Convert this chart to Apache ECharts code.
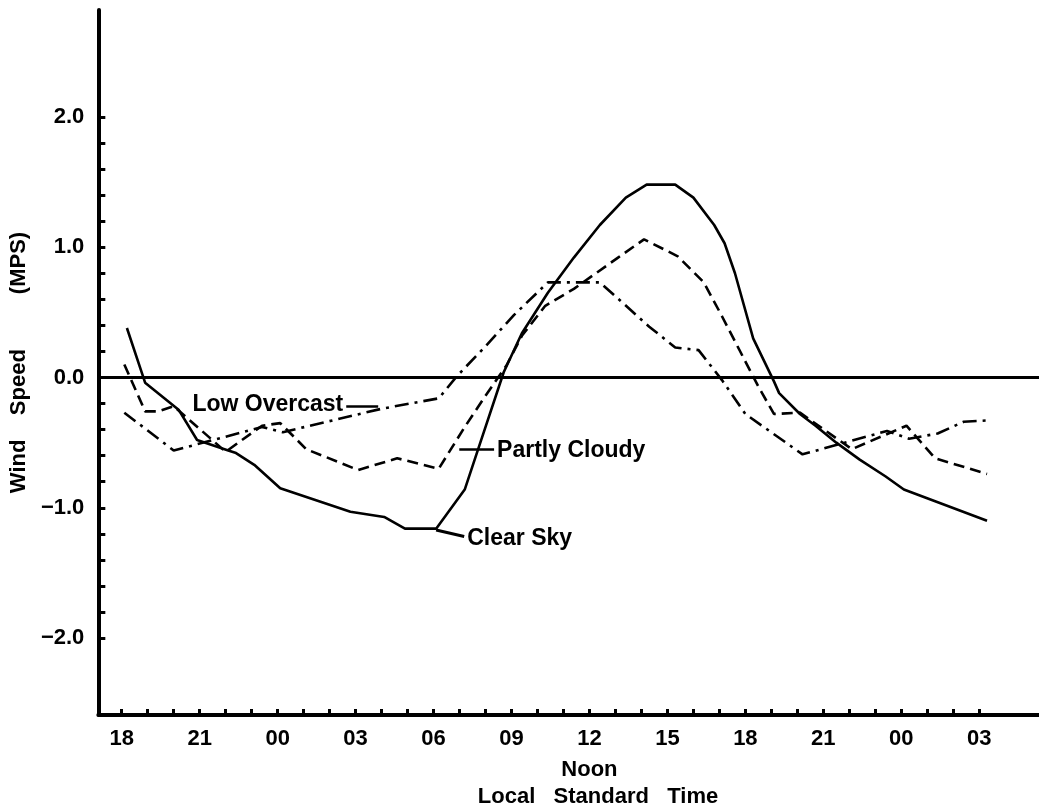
<!DOCTYPE html>
<html>
<head>
<meta charset="utf-8">
<script src="https://cdn.jsdelivr.net/npm/echarts@6/dist/echarts.min.js"></script>
<style>
  html, body { margin: 0; padding: 0; background: #fff; }
  #chart { width: 1039px; height: 808px; }
</style>
</head>
<body>
<div id="chart"></div>
<script>
// hours counted from 18:00 of the first evening, wind speed in m/s
const clearSky = [
  [0.2, 0.38], [0.9, -0.04], [2.2, -0.25], [2.9, -0.48], [4.1, -0.56], [4.4, -0.58],
  [5.1, -0.67], [6.1, -0.85], [8.8, -1.03], [10.1, -1.07], [10.9, -1.16], [12.1, -1.16],
  [13.2, -0.86], [13.8, -0.5], [14.7, 0.04], [15.4, 0.34], [16.4, 0.65], [17.4, 0.92],
  [18.4, 1.17], [19.4, 1.38], [20.2, 1.48], [21.3, 1.48], [22.0, 1.38], [22.8, 1.17],
  [23.2, 1.03], [23.6, 0.8], [24.3, 0.3], [25.1, -0.03], [25.3, -0.12], [26.1, -0.28],
  [26.7, -0.37], [27.5, -0.5], [28.4, -0.63], [29.4, -0.76], [30.1, -0.86], [33.3, -1.1]
];
const partlyCloudy = [
  [0.1, 0.1], [0.9, -0.26], [1.4, -0.26], [2.0, -0.22], [4.0, -0.57], [5.4, -0.37],
  [6.1, -0.35], [7.1, -0.55], [9.1, -0.71], [10.6, -0.62], [12.2, -0.7], [13.2, -0.38],
  [14.0, -0.14], [14.8, 0.09], [15.4, 0.32], [16.3, 0.55], [17.4, 0.68], [19.1, 0.92],
  [20.1, 1.06], [21.4, 0.93], [22.4, 0.73], [23.1, 0.47], [24.5, -0.07], [25.1, -0.28],
  [26.1, -0.27], [28.1, -0.55], [30.2, -0.37], [31.3, -0.62], [33.3, -0.74]
];
const lowOvercast = [
  [0.1, -0.27], [2.0, -0.56], [5.4, -0.38], [6.2, -0.42], [10.0, -0.24], [12.2, -0.16],
  [12.9, 0.01], [14.0, 0.24], [15.1, 0.48], [16.4, 0.73], [18.4, 0.73], [20.3, 0.39],
  [21.3, 0.23], [22.2, 0.21], [23.1, -0.02], [24.0, -0.28], [26.2, -0.59], [29.45, -0.41],
  [30.3, -0.47], [31.4, -0.43], [32.4, -0.34], [33.3, -0.33]
];

const hourTicks = [0,1,2,3,4,5,6,7,8,9,10,11,12,13,14,15,16,17,18,19,20,21,22,23,24,25,26,27,28,29,30,31,32,33];
const hourLabels = [0,3,6,9,12,15,18,21,24,27,30,33];
const speedTicks = [-2,-1.8,-1.6,-1.4,-1.2,-1,-0.8,-0.6,-0.4,-0.2,0,0.2,0.4,0.6,0.8,1,1.2,1.4,1.6,1.8,2];
const speedLabels = [-2,-1,0,1,2];

const FONT = '"Liberation Sans", Arial, sans-serif';

const chart = echarts.init(document.getElementById('chart'));

const lineBase = {
  type: 'line',
  showSymbol: false,
  symbol: 'none',
  silent: true,
  z: 3
};

// pointer from a label to its curve
const pointer = (a, b) => [{ coord: a }, { coord: b }];
const tag = (text, coord, pos) => ({
  coord: coord,
  symbolSize: 0,
  label: {
    show: true, formatter: text, position: pos, distance: 3,
    color: '#000', fontFamily: FONT, fontWeight: 'bold', fontSize: 23
  }
});

const option = {
  animation: false,
  backgroundColor: '#fff',
  grid: { left: 97, right: 0, top: 10, bottom: 93, containLabel: false },
  xAxis: {
    type: 'value',
    min: -0.9,
    max: 35.3,
    axisLine: { show: true, onZero: false, lineStyle: { color: '#000', width: 4 } },
    axisTick: { show: true, inside: true, length: 6, customValues: hourTicks, lineStyle: { color: '#000', width: 3 } },
    axisLabel: {
      show: true,
      customValues: hourLabels,
      margin: 8,
      color: '#000',
      fontFamily: FONT,
      fontWeight: 'bold',
      fontSize: 22,
      lineHeight: 31,
      formatter: v => {
        const h = String((18 + v) % 24).padStart(2, '0');
        return v === 18 ? h + '\nNoon' : h;
      }
    },
    splitLine: { show: false }
  },
  yAxis: {
    type: 'value',
    min: -2.59,
    max: 2.82,
    name: 'Wind    Speed         (MPS)',
    nameLocation: 'middle',
    nameRotate: 90,
    nameGap: 60,
    nameTextStyle: { color: '#000', fontFamily: FONT, fontWeight: 'bold', fontSize: 22 },
    axisLine: { show: true, onZero: false, lineStyle: { color: '#000', width: 4 } },
    axisTick: { show: true, inside: true, length: 7, customValues: speedTicks, lineStyle: { color: '#000', width: 3 } },
    axisLabel: {
      show: true,
      customValues: speedLabels,
      margin: 14,
      color: '#000',
      fontFamily: FONT,
      fontWeight: 'bold',
      fontSize: 22,
      formatter: v => v.toFixed(1).replace('-', '\u2212')
    },
    splitLine: { show: false }
  },
  graphic: [{
    type: 'text',
    x: 598, y: 797,
    style: {
      text: 'Local   Standard   Time',
      align: 'center', verticalAlign: 'middle',
      fill: '#000',
      font: 'bold 22px ' + FONT
    }
  }],
  series: [
    Object.assign({}, lineBase, {
      name: 'Clear Sky',
      data: clearSky,
      lineStyle: { color: '#000', width: 2.6, type: 'solid' },
      markLine: {
        silent: true, symbol: 'none',
        label: { show: false },
        lineStyle: { color: '#000', width: 3, type: 'solid' },
        data: [[{ coord: [-0.9, 0] }, { coord: [35.3, 0] }], pointer([12.1, -1.17], [13.18, -1.22])]
      },
      markPoint: { silent: true, symbol: 'circle', data: [tag('Clear Sky', [13.18, -1.24], 'right')] }
    }),
    Object.assign({}, lineBase, {
      name: 'Partly Cloudy',
      data: partlyCloudy,
      lineStyle: { color: '#000', width: 2.6, type: [11, 6] },
      markLine: {
        silent: true, symbol: 'none',
        label: { show: false },
        lineStyle: { color: '#000', width: 2.6, type: 'solid' },
        data: [pointer([12.99, -0.55], [14.33, -0.55])]
      },
      markPoint: { silent: true, symbol: 'circle', data: [tag('Partly Cloudy', [14.33, -0.56], 'right')] }
    }),
    Object.assign({}, lineBase, {
      name: 'Low Overcast',
      data: lowOvercast,
      lineStyle: { color: '#000', width: 2.6, type: [14, 6, 3, 6] },
      markLine: {
        silent: true, symbol: 'none',
        label: { show: false },
        lineStyle: { color: '#000', width: 2.6, type: 'solid' },
        data: [pointer([8.64, -0.22], [9.87, -0.22])]
      },
      markPoint: { silent: true, symbol: 'circle', data: [tag('Low Overcast', [8.64, -0.21], 'left')] }
    })
  ]
};

chart.setOption(option);
</script>
</body>
</html>
